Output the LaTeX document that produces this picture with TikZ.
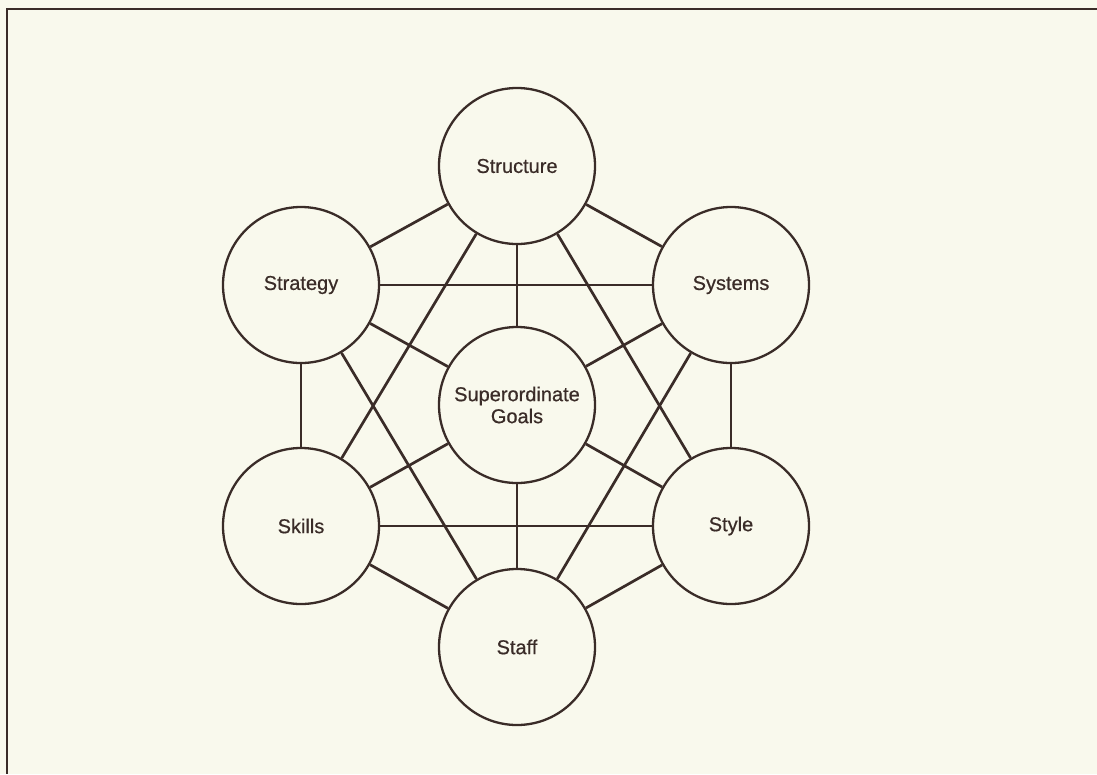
\documentclass[tikz,border=0pt]{standalone}
\usepackage{fontspec}
\setmainfont{Liberation Sans}
\newfontfamily\lblfont[FakeBold=0.6]{Liberation Sans}
\definecolor{paper}{RGB}{249,249,237}
\definecolor{ink}{RGB}{58,44,40}
\begin{document}
\begin{tikzpicture}[x=1pt,y=-1pt,
  sbox/.style={circle,draw=ink,line width=2.3pt,minimum size=156pt,inner sep=0pt,
    font=\lblfont\fontsize{20}{22}\selectfont,text=ink,align=center},
  slant/.style={draw=ink,line width=2.7pt},
  axis/.style={draw=ink,line width=1.9pt},
  frameline/.style={draw=ink,line width=2.6pt}]
\fill[paper] (0,0) rectangle (1097,774);
\useasboundingbox (0,0) rectangle (1097,774);
\coordinate (fa) at (1097,9);
\coordinate (fb) at (7,9);
\coordinate (fc) at (7,774);
\draw[frameline] (fa) -- (fb) -- (fc);
\node[sbox] (structure) at (517,166) {Structure};
\node[sbox] (strategy) at (301,285) {Strategy};
\node[sbox] (systems) at (731,285) {Systems};
\node[sbox] (goals) at (517,405) {Superordinate\\Goals};
\node[sbox] (skills) at (301,526) {Skills};
\node[sbox] (style) at (731,526) {Style};
\node[sbox] (staff) at (517,647) {Staff};
% hexagon edges
\draw[slant] (structure) -- (strategy);
\draw[slant] (structure) -- (systems);
\draw[axis] (strategy) -- (skills);
\draw[axis] (systems) -- (style);
\draw[slant] (skills) -- (staff);
\draw[slant] (style) -- (staff);
% long diagonals
\draw[slant] (structure) -- (skills);
\draw[slant] (structure) -- (style);
\draw[axis] (strategy) -- (systems);
\draw[axis] (skills) -- (style);
\draw[slant] (strategy) -- (staff);
\draw[slant] (systems) -- (staff);
% spokes
\draw[axis] (structure) -- (goals);
\draw[axis] (goals) -- (staff);
\draw[slant] (strategy) -- (goals);
\draw[slant] (systems) -- (goals);
\draw[slant] (skills) -- (goals);
\draw[slant] (style) -- (goals);
\end{tikzpicture}
\end{document}
